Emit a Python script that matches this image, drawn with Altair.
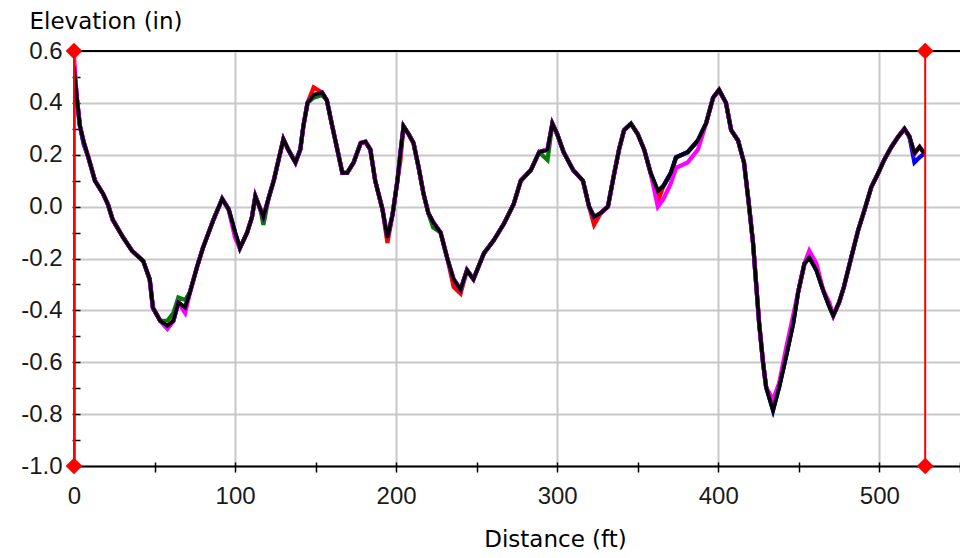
import altair as alt
import pandas as pd

# ---- data ----
distance = [0, 1.9, 3.7, 6, 8.9, 13, 18, 21, 24, 30.6, 36, 43, 47, 49, 53.5, 58, 61.7, 64.8, 69, 72,
            76.5, 80, 86.6, 92, 96, 100, 103, 107.5, 110.5, 112.6, 115.7, 117.6, 120.7, 124, 127, 130,
            133, 137.5, 140.5, 142.4, 145, 148.8, 154, 157, 160, 163.5, 166.6, 169.6, 173.6, 178, 181,
            184, 187, 191.5, 194.6, 197.8, 200.8, 202.7, 204.6, 207.7, 210.8, 214, 217, 220, 223, 227.6,
            232, 235.7, 240, 244, 248, 254.5, 260.6, 267, 273, 277.4, 283.6, 288.8, 294, 297, 300, 304,
            310, 316, 319.8, 322.9, 327, 331.5, 335, 338.4, 341.5, 345.8, 350, 354, 358, 362.5, 366,
            370.6, 373.8, 381, 387.4, 392.4, 396.8, 400.5, 404.8, 408, 412.3, 416, 419, 421.6, 423.5,
            425.4, 427.8, 429.7, 434, 437.8, 442, 446.5, 449.6, 453.5, 456.5, 461, 465, 469, 471.4, 475,
            478, 482.6, 486.9, 490.7, 495, 499.4, 503, 507.5, 511.8, 515.6, 518.7, 521.8, 525, 528]

elev_black = [0.54, 0.41, 0.31, 0.25, 0.19, 0.10, 0.05, 0.01, -0.05, -0.12, -0.17, -0.21, -0.28, -0.39,
              -0.44, -0.46, -0.44, -0.37, -0.39, -0.33, -0.23, -0.16, -0.05, 0.03, -0.01, -0.10, -0.16,
              -0.10, -0.04, 0.04, -0.01, -0.04, 0.03, 0.10, 0.18, 0.26, 0.22, 0.17, 0.22, 0.31, 0.40,
              0.43, 0.44, 0.41, 0.32, 0.22, 0.13, 0.13, 0.17, 0.245, 0.25, 0.22, 0.10, -0.01, -0.12,
              -0.03, 0.10, 0.21, 0.31, 0.28, 0.245, 0.15, 0.05, -0.025, -0.06, -0.10, -0.205, -0.28,
              -0.32, -0.245, -0.28, -0.18, -0.13, -0.065, 0.01, 0.10, 0.14, 0.21, 0.22, 0.32, 0.28, 0.21,
              0.14, 0.10, 0.0, -0.04, -0.025, 0.0, 0.115, 0.22, 0.295, 0.32, 0.28, 0.22, 0.13, 0.06,
              0.08, 0.13, 0.19, 0.21, 0.255, 0.32, 0.42, 0.45, 0.40, 0.295, 0.255, 0.17, 0.01, -0.14,
              -0.295, -0.45, -0.60, -0.695, -0.785, -0.695, -0.58, -0.45, -0.33, -0.22, -0.195, -0.245,
              -0.32, -0.385, -0.42, -0.37, -0.31, -0.195, -0.09, -0.015, 0.075, 0.13, 0.18, 0.23, 0.27,
              0.30, 0.27, 0.205, 0.23, 0.205]

# where the other runs differ visibly from the black run
red_diff = {0: 0.50, 148.8: 0.46, 194.6: -0.14, 202.7: 0.18, 235.7: -0.31, 240: -0.335,
            322.9: -0.07, 362.5: 0.02, 434: -0.77}
green_diff = {58: -0.44, 61.7: -0.41, 64.8: -0.35, 69: -0.36, 117.6: -0.07, 148.8: 0.42,
              154: 0.43, 223: -0.08, 294: 0.18}
blue_diff = {6: 0.24, 58: -0.47, 521.8: 0.17, 525: 0.19}
magenta_diff = {0: 0.58, 58: -0.47, 69: -0.41, 100: -0.12, 362.5: 0.0, 366: 0.03, 370.6: 0.09,
                373.8: 0.15, 381: 0.17, 387.4: 0.22, 434: -0.745, 437.8: -0.68, 442: -0.55,
                446.5: -0.42, 456.5: -0.17, 461: -0.22, 469: -0.37}

series = [("red", red_diff), ("green", green_diff), ("blue", blue_diff),
          ("magenta", magenta_diff), ("black", {})]

x_major = [0, 100, 200, 300, 400, 500]
x_ticks = [0, 50, 100, 150, 200, 250, 300, 350, 400, 450, 500, 550]
y_major = [-1.0, -0.8, -0.6, -0.4, -0.2, 0.0, 0.2, 0.4, 0.6]
y_ticks = [-1.0, -0.9, -0.8, -0.7, -0.6, -0.5, -0.4, -0.3, -0.2, -0.1, 0.0, 0.1, 0.2, 0.3, 0.4,
           0.5, 0.6]
x_range = [0, 550.1]
y_range = [-1.0, 0.6]
cursor_x = [0, 528.5]

# ---- chart ----
xs = alt.Scale(domain=x_range, nice=False, zero=False)
ys = alt.Scale(domain=y_range, nice=False, zero=False)

TICK_FONT = "Liberation Sans"
TITLE_FONT = "DejaVu Sans"

x_axis_a = alt.Axis(values=x_major, grid=True, gridColor="#c8c8c8", gridWidth=2, ticks=False,
                    labels=False, domain=True, domainColor="#000000", domainWidth=2,
                    title="Distance (ft)", titleFont=TITLE_FONT, titleFontSize=23,
                    titleFontWeight="normal", titleColor="#000000", titleX=481, titleY=80,
                    titleAlign="center", titleBaseline="alphabetic", orient="bottom")
x_axis_b = alt.Axis(values=x_ticks, grid=False, domain=False, ticks=True, tickSize=10,
                    tickColor="#000000", tickWidth=1.5, offset=-4, labels=True,
                    labelExpr="datum.value % 100 === 0 ? datum.label : ''",
                    labelFont=TICK_FONT, labelFontSize=24, labelColor="#1a1a1a",
                    labelPadding=12, labelFlush=False, labelOverlap=False, title=None,
                    orient="bottom")
y_axis_a = alt.Axis(values=y_major, grid=True, gridColor="#c8c8c8", gridWidth=2, ticks=False,
                    labels=False, domain=True, domainColor="#000000", domainWidth=2,
                    title="Elevation (in)", titleFont=TITLE_FONT, titleFontSize=23,
                    titleFontWeight="normal", titleColor="#000000", titleAngle=0,
                    titleX=-45, titleY=-23, titleAlign="left", titleBaseline="alphabetic",
                    orient="left")
y_axis_b = alt.Axis(values=y_ticks, grid=False, domain=False, ticks=True, tickSize=8,
                    tickColor="#000000", tickWidth=1.5, offset=-6, labels=True,
                    labelExpr="abs(round(datum.value*10)) % 2 === 0 ? "
                              "((datum.value < -0.001 ? '-' : '') + format(abs(datum.value), '.1f')) : ''",
                    labelFont=TICK_FONT, labelFontSize=24, labelColor="#1a1a1a",
                    labelPadding=10, labelFlush=False, labelOverlap=False, title=None,
                    orient="left")

layers = []
for i, (col, diff) in enumerate(series):
    vals = [diff.get(d, v) for d, v in zip(distance, elev_black)]
    df = pd.DataFrame({"Distance": distance, "Elevation": vals})
    if i == 0:
        xa, ya = x_axis_a, y_axis_a
    elif i == 1:
        xa, ya = x_axis_b, y_axis_b
    else:
        xa, ya = None, None
    layers.append(
        alt.Chart(df).mark_line(color=col, strokeWidth=4.2 if col != "black" else 3.6,
                                clip=True).encode(
            x=alt.X("Distance:Q", scale=xs, axis=xa),
            y=alt.Y("Elevation:Q", scale=ys, axis=ya),
        )
    )

top_df = pd.DataFrame({"top": [y_range[1]]})
top_line = alt.Chart(top_df).mark_rule(color="#000000", strokeWidth=2).encode(
    y=alt.Y("top:Q", scale=ys, axis=None)
)

cursor_df = pd.DataFrame({"x": cursor_x, "lo": [y_range[0]] * len(cursor_x),
                          "hi": [y_range[1]] * len(cursor_x)})
cursor_lines = alt.Chart(cursor_df).mark_rule(color="#ff0000", strokeWidth=2).encode(
    x=alt.X("x:Q", scale=xs, axis=None),
    y=alt.Y("lo:Q", scale=ys, axis=None),
    y2="hi:Q",
)

pts = pd.DataFrame({"x": cursor_x * 2,
                    "y": [y_range[0]] * len(cursor_x) + [y_range[1]] * len(cursor_x)})
cursor_pts = alt.Chart(pts).mark_point(shape="diamond", filled=True, size=280, color="#ff0000",
                                       opacity=1).encode(
    x=alt.X("x:Q", scale=xs, axis=None),
    y=alt.Y("y:Q", scale=ys, axis=None),
)

chart = alt.layer(*layers, top_line, cursor_lines, cursor_pts).resolve_axis(
    x="independent", y="independent"
).properties(
    width=886, height=415,
    padding={"left": 66, "top": 43, "right": 0, "bottom": 86},
    autosize=alt.AutoSizeParams(type="none"),
    background="#ffffff",
).configure_view(stroke=None)

chart.save("out.html", embed_options={"renderer": "svg", "actions": False})
